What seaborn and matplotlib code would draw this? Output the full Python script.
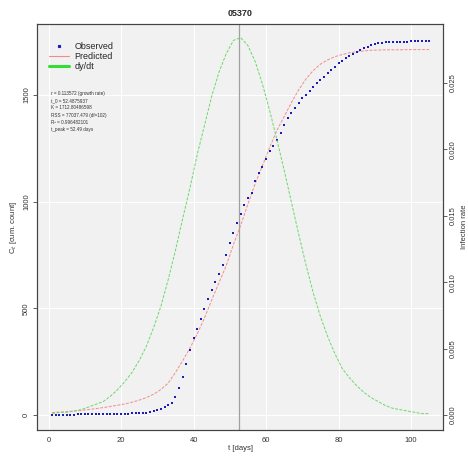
import numpy as np
import matplotlib
matplotlib.use("Agg")
import matplotlib.pyplot as plt
from matplotlib.lines import Line2D
import seaborn as sns

# ===============================
# DATA
# ===============================
TITLE = "05370"

days = list(range(1, 106))
observed = [
    0, 1, 1, 1, 2, 2, 2, 3, 3, 3, 3, 4, 4, 4, 5, 5, 5, 6, 6, 6,
    7, 7, 8, 8, 9, 10, 12, 14, 17, 22, 30, 38, 47, 58, 84, 127, 178, 240, 305, 360,
    405, 450, 497, 545, 586, 622, 661, 703, 750, 806, 853, 900, 942, 985, 1017, 1041, 1097, 1135, 1163, 1200,
    1240, 1261, 1289, 1322, 1360, 1392, 1417, 1438, 1461, 1484, 1500, 1519, 1539, 1555, 1570, 1586, 1602, 1617, 1633, 1648,
    1660, 1672, 1683, 1693, 1703, 1712, 1720, 1727, 1733, 1738, 1742, 1745, 1747, 1748, 1749, 1749, 1750, 1750, 1750, 1751,
    1751, 1751, 1752, 1752, 1752,
]

fit_days = list(range(1, 106, 2))
predicted = [
    12, 14, 16, 19, 22, 26, 30, 35, 40, 46, 52, 60, 70, 82, 98, 120, 150, 200, 255, 314,
    380, 455, 540, 620, 700, 800, 890, 990, 1085, 1170, 1255, 1335, 1400, 1465, 1525, 1575, 1615, 1645, 1665, 1680,
    1690, 1698, 1703, 1707, 1710, 1711, 1712, 1712, 1712, 1713, 1713, 1713, 1713,
]
rate = [
    0.0001, 0.0002, 0.0002, 0.0003, 0.0004, 0.0006, 0.0008, 0.0010, 0.0014, 0.0019,
    0.0025, 0.0032, 0.0041, 0.0052, 0.0066, 0.0082, 0.0102, 0.0124, 0.0148, 0.0171,
    0.0196, 0.0218, 0.0240, 0.0258, 0.0272, 0.0282, 0.0284, 0.0278, 0.0266, 0.0249,
    0.0229, 0.0207, 0.0184, 0.0160, 0.0136, 0.0113, 0.0092, 0.0074, 0.0059, 0.0046,
    0.0035, 0.0028, 0.0022, 0.0017, 0.0013, 0.0010, 0.0007, 0.0005, 0.0004, 0.0003,
    0.0002, 0.0001, 0.0001,
]
t_peak = 52.5

fit_info = [
    "r = 0.113572 (growth rate)",
    "t_0 = 52.4875937",
    "K = 1712.80486598",
    "RSS = 77037.479 (df=102)",
    "R\u00b2 = 0.996482101",
    "t_peak = 52.49 days",
]

x_ticks = [0, 20, 40, 60, 80, 100]
y_ticks = [0, 500, 1000, 1500]
rate_ticks = [0.000, 0.005, 0.010, 0.015, 0.020, 0.025]

# ===============================
# STYLE
# ===============================
sns.set_style("darkgrid", {
    "axes.facecolor": "#f1f1f1",
    "grid.color": "white",
    "axes.edgecolor": "#444444",
})
plt.rcParams["font.family"] = ["Liberation Sans", "DejaVu Sans"]

fig = plt.figure(figsize=(4.68, 4.58), dpi=100)
ax = fig.add_axes([37 / 468, 28 / 458, 406 / 468, 406 / 458])

sns.scatterplot(x=days, y=observed, ax=ax, marker="s", s=2.5,
                color="#1c1cb8", linewidth=0, legend=False, zorder=4)
sns.lineplot(x=fit_days, y=predicted, ax=ax, color="#f58a8a", lw=0.7,
             linestyle=(0, (3, 1.5)), legend=False, zorder=3)
ax.axvline(t_peak, color="#a0a0a0", lw=0.9, zorder=2)

ax.set_xlim(-3.2, 108.8)
ax.set_ylim(-70, 1833)
ax.set_xticks(x_ticks)
ax.set_yticks(y_ticks)
ax.grid(True, lw=0.8)
ax.tick_params(axis="both", length=3, width=0.6, color="#444444",
               labelsize=5.5, pad=2, labelcolor="#333333")
ax.tick_params(axis="y", labelrotation=90)
for lbl in ax.get_yticklabels():
    lbl.set_va("center")
for s in ax.spines.values():
    s.set_linewidth(0.8)

ax.set_xlabel("t [days]", fontsize=5.5, labelpad=1, color="#333333")
ax.set_ylabel("C$_t$ [cum. count]", fontsize=5.5, labelpad=3, color="#333333")
ax.set_title(TITLE, fontsize=6.5, fontweight="bold", pad=6)

ax2 = ax.twinx()
sns.lineplot(x=fit_days, y=rate, ax=ax2, color="#6ad86a", lw=0.7,
             linestyle=(0, (3, 1.5)), legend=False)
ax2.set_ylim(-0.00113, 0.02943)
ax2.set_yticks(rate_ticks)
ax2.set_yticklabels([f"{v:.3f}" for v in rate_ticks])
ax2.grid(False)
ax2.tick_params(axis="y", length=3, width=0.6, color="#444444",
                labelsize=5.5, pad=2, labelrotation=90, labelcolor="#333333")
for lbl in ax2.get_yticklabels():
    lbl.set_va("center")
ax2.set_ylabel("Infection rate", fontsize=5.5, labelpad=3, color="#333333")

handles = [
    Line2D([], [], ls="none", marker="s", ms=1.3, color="#1c1cb8"),
    Line2D([], [], color="#f58a8a", lw=0.8),
    Line2D([], [], color="#33dd33", lw=2.2),
]
ax2.legend(handles, ["Observed", "Predicted", "dy/dt"], loc="upper left",
           bbox_to_anchor=(0.01, 0.975), frameon=False, fontsize=6.5,
           handlelength=2.2, labelspacing=0.1, handletextpad=0.6)

for i, line in enumerate(fit_info):
    ax2.text(0.035, 0.83 - i * 0.0182, line, transform=ax.transAxes,
             fontsize=3.3, va="center", ha="left", color="#333333")

plt.savefig("out.png", dpi=100)
plt.close()
